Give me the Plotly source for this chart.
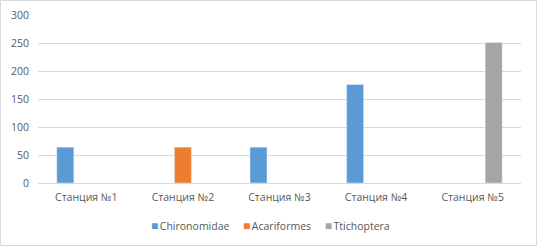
import plotly.graph_objects as go

stations = ["Станция №1", "Станция №2", "Станция №3", "Станция №4", "Станция №5"]
series_names = ["Chironomidae", "Acariformes", "Ttichoptera"]
series_colors = ["#5b9bd5", "#ed7d31", "#a5a5a5"]
chironomidae = [64, None, 64, 176, None]
acariformes = [None, 64, None, None, None]
ttichoptera = [None, None, None, None, 251]
y_ticks = [0, 50, 100, 150, 200, 250, 300]

W, H = 537, 246
ml, mr, mt, mb = 38, 16, 15, 63
pw, ph = W - ml - mr, H - mt - mb

fig = go.Figure()
for name, vals, col in zip(series_names, [chironomidae, acariformes, ttichoptera], series_colors):
    fig.add_bar(x=stations, y=vals, name=name, marker_color=col)

fam = "Open Sans, Liberation Sans, sans-serif"
font = dict(family=fam, size=10.5, color="#595959")

legend_html = "&nbsp;&nbsp;&nbsp;&nbsp;&nbsp;".join(
    f"<span style='color:{c};font-size:12px'>■</span><span style='font-size:6px'> </span>{n}"
    for n, c in zip(series_names, series_colors)
)

fig.update_layout(
    width=W, height=H,
    margin=dict(l=ml, r=mr, t=mt, b=mb, autoexpand=False),
    paper_bgcolor="white", plot_bgcolor="white",
    barmode="group", bargap=0.348, bargroupgap=0.19,
    font=font,
    showlegend=False,
    xaxis=dict(showgrid=False, showline=True, linecolor="#d9d9d9", linewidth=1,
               ticks="", tickfont=font, fixedrange=True, ticklabelstandoff=4),
    yaxis=dict(range=[0, 300], tickvals=y_ticks, showgrid=True, gridcolor="#d9d9d9",
               gridwidth=1, zeroline=False, showline=False, ticks="", tickfont=font,
               ticklabelstandoff=8, fixedrange=True),
    annotations=[dict(text=legend_html, xref="paper", yref="paper",
                      x=(270 - ml) / pw, y=-(225 - (mt + ph)) / ph,
                      xanchor="center", yanchor="middle", showarrow=False,
                      font=dict(family=fam, size=10.5, color="#595959"))],
    shapes=[dict(type="rect", xref="paper", yref="paper",
                 x0=(-ml + 0.5) / pw, x1=(pw + mr - 0.5) / pw,
                 y0=(-mb + 0.5) / ph, y1=(ph + mt - 0.5) / ph,
                 line=dict(color="#d9d9d9", width=1), layer="below")],
)
fig.write_html("out.html", config={"displayModeBar": False},
               post_script="document.body.style.margin='0';document.body.style.overflow='hidden';")
